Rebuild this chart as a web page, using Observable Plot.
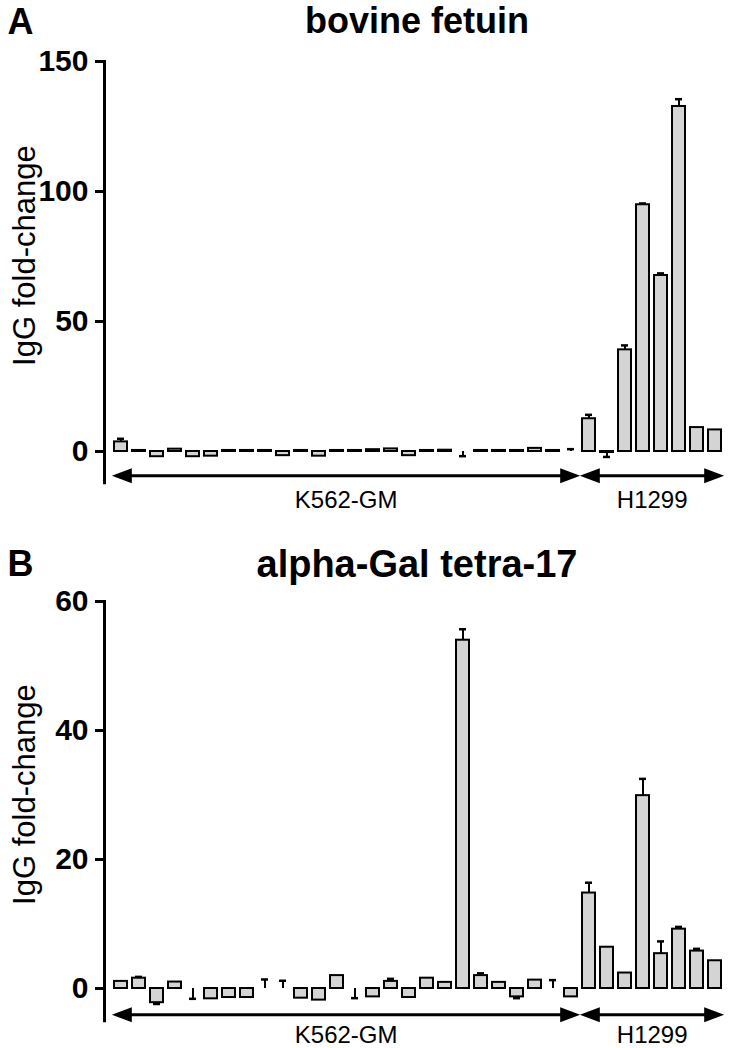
<!DOCTYPE html>
<html>
<head>
<meta charset="utf-8">
<script src="https://cdn.jsdelivr.net/npm/d3@7"></script>
<script src="https://cdn.jsdelivr.net/npm/@observablehq/plot@0.6"></script>
<style>
  body { margin: 0; background: #fff; }
  #chart { width: 730px; height: 1048px; overflow: hidden; }
  #chart svg { display: block; }
</style>
</head>
<body>
<div id="chart"></div>
<script>
// ---- categories ----
const k562Samples = ["K01","K02","K03","K04","K05","K06","K07","K08","K09","K10","K11","K12","K13",
                     "K14","K15","K16","K17","K18","K19","K20","K21","K22","K23","K24","K25","K26"];
const h1299Samples = ["H01","H02","H03","H04","H05","H06","H07","H08"];
const categories = [...k562Samples, ...h1299Samples];

// ---- groups (double arrows under the bars) ----
const groupNames = ["K562-GM", "H1299"];
const groupFirst = ["K01", "H01"];
const groupLast  = ["K26", "H08"];
const groupMid   = ["K13", "H04"];

// ---- panel A: bovine fetuin ----
const fetuinValues = [3.7, 0.4, -2.0, 0.9, -2.0, -1.8, 0.4, 0.4, 0.4, -1.6, 0.4, -1.8, 0.4,
                      0.4, 0.7, 1.0, -1.6, 0.4, 0.5, null, 0.4, 0.4, 0.4, 1.2, 0.4, null,
                      12.6, -0.4, 39.1, 94.9, 67.7, 132.7, 9.2, 8.3];
const fetuinErrors = [1.2, 0, 0, 0, 0, 0, 0, 0, 0, 0, 0, 0, 0,
                      0, 0, 0, 0, 0, 0, -1.8, 0, 0, 0, 0, 0, 0.9,
                      1.5, -1.7, 1.7, 0.5, 0.8, 2.8, 0, 0];
const fetuinTicks = [0, 50, 100, 150];

// ---- panel B: alpha-Gal tetra-17 ----
const tetraValues = [1.1, 1.6, -2.2, 1.0, null, -1.6, -1.4, -1.4, null, null, -1.5, -1.8, 2.0,
                     null, -1.3, 1.1, -1.4, 1.6, 0.95, 54.0, 2.0, 0.95, -1.3, 1.3, null, -1.3,
                     14.8, 6.4, 2.4, 29.9, 5.4, 9.2, 5.8, 4.3];
const tetraErrors = [0, 0.2, -0.2, 0, -1.6, 0, 0, 0, 1.4, 1.2, 0, 0, 0,
                     -1.5, 0, 0.4, 0, 0, 0, 1.7, 0.35, 0, -0.2, 0, 1.3, 0,
                     1.6, 0, 0, 2.6, 1.9, 0.35, 0.35, 0];
const tetraTicks = [0, 20, 40, 60];

const yLabel = "IgG fold-change";
const FONT = "'Liberation Sans', Arial, Helvetica, sans-serif";

// arrowhead symbols (tip at origin)
const headRight = { draw(ctx) { ctx.moveTo(0, 0); ctx.lineTo(-20, -7.5); ctx.lineTo(-20, 7.5); ctx.closePath(); } };
const headLeft  = { draw(ctx) { ctx.moveTo(0, 0); ctx.lineTo(20, -7.5); ctx.lineTo(20, 7.5); ctx.closePath(); } };

function panel(o) {
  const rows = categories.map((c, i) => ({ id: c, value: o.values[i], err: o.errors[i] }));
  const errRows = rows.filter(d => d.err);
  const groups = groupNames.map((g, i) => ({ name: g, first: groupFirst[i], last: groupLast[i], mid: groupMid[i] }));
  const W = 730, ML = 104, MR = 1, INS = 2;
  const step = (W - ML - MR - INS) / categories.length;
  const base = d => (d.value == null ? 0 : d.value);
  return Plot.plot({
    width: W, height: o.height,
    marginLeft: ML, marginRight: MR, marginTop: o.marginTop, marginBottom: o.marginBottom,
    style: { fontFamily: FONT, background: "white", color: "black", overflow: "visible" },
    x: { domain: categories, paddingInner: 0.3, paddingOuter: 0.15, insetLeft: INS, axis: null },
    y: { domain: [o.yMin, o.yMax], axis: null },
    marks: [
      Plot.barY(rows, { x: "id", y: "value", fill: "#d4d4d4", stroke: "#000", strokeWidth: 2 }),
      Plot.ruleX(errRows, { x: "id", y1: base, y2: d => base(d) + d.err, stroke: "#000", strokeWidth: 2 }),
      Plot.tickY(errRows, { x: "id", y: d => base(d) + d.err, stroke: "#000", strokeWidth: 2.5, insetLeft: 3, insetRight: 3 }),
      Plot.axisY({ ticks: o.ticks, tickSize: 9, tickPadding: 7, strokeWidth: 3, fontSize: 30, fontWeight: "bold", label: null, tickFormat: d => String(d) }),
      Plot.frame({ anchor: "left", stroke: "#000", strokeWidth: 3 }),
      Plot.ruleY(groups, { x1: "first", x2: "last", y: () => o.yMin, dy: o.arrowDy, stroke: "#000", strokeWidth: 3, insetLeft: 4, insetRight: 4 }),
      Plot.dot(groups, { x: "first", frameAnchor: "bottom", dx: -step / 2, dy: o.arrowDy, symbol: headLeft, fill: "#000", stroke: "none" }),
      Plot.dot(groups, { x: "last", frameAnchor: "bottom", dx: step / 2, dy: o.arrowDy, symbol: headRight, fill: "#000", stroke: "none" }),
      Plot.text(groups, { x: "mid", text: "name", frameAnchor: "bottom", lineAnchor: "middle", textAnchor: "middle", dx: step / 2, dy: o.groupDy, fontSize: 24, fill: "#000" }),
      Plot.text([o.title], { frameAnchor: "top", lineAnchor: "middle", textAnchor: "middle", dy: o.titleDy, fontSize: o.titleSize, fontWeight: "bold", fill: "#000" }),
      Plot.text([o.letter], { frameAnchor: "top-left", lineAnchor: "middle", textAnchor: "start", dx: -97, dy: o.letterDy, fontSize: 36, fontWeight: "bold", fill: "#000" }),
      Plot.text([yLabel], { frameAnchor: "left", lineAnchor: "middle", textAnchor: "middle", rotate: -90, dx: -79, dy: -16.5, fontSize: 31, fill: "#000" })
    ]
  });
}

const chart = document.getElementById("chart");
chart.append(panel({
  letter: "A", title: "bovine fetuin", values: fetuinValues, errors: fetuinErrors, ticks: fetuinTicks,
  yMin: -12, yMax: 150, height: 524, marginTop: 61, marginBottom: 41.8,
  titleDy: -40.5, titleSize: 36, letterDy: -39.5, arrowDy: -7, groupDy: 18
}));
chart.append(panel({
  letter: "B", title: "alpha-Gal tetra-17", values: tetraValues, errors: tetraErrors, ticks: tetraTicks,
  yMin: -5, yMax: 60, height: 524, marginTop: 77, marginBottom: 27.75,
  titleDy: -36.5, titleSize: 38, letterDy: -37, arrowDy: -6, groupDy: 14.5
}));
</script>
</body>
</html>
